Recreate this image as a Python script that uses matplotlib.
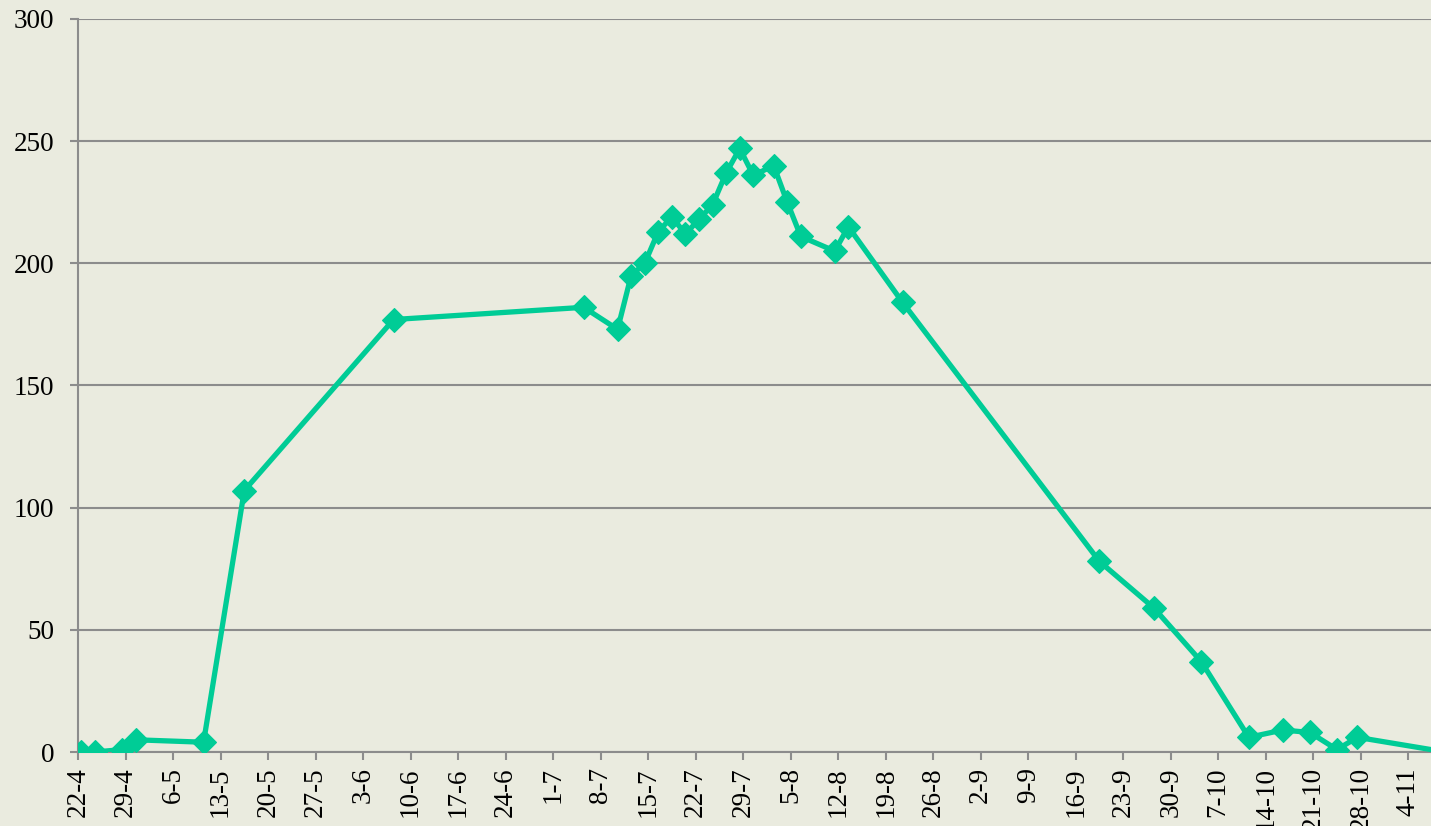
import matplotlib
matplotlib.use("Agg")
import matplotlib.pyplot as plt
import pandas as pd

# ---- data ----
dates = ["22-4", "24-4", "28-4", "30-4", "10-5", "16-5", "7-6", "5-7", "10-7",
         "12-7", "14-7", "16-7", "18-7", "20-7", "22-7", "24-7", "26-7", "28-7",
         "30-7", "2-8", "4-8", "6-8", "11-8", "13-8", "21-8", "19-9", "27-9",
         "4-10", "11-10", "16-10", "20-10", "24-10", "27-10", "9-11"]
values = [0, 0, 1, 5, 4, 107, 177, 182, 173,
          195, 200, 213, 219, 212, 218, 224, 237, 247,
          236, 240, 225, 211, 205, 215, 184, 78, 59,
          37, 6, 9, 8, 1, 6, 0]
tick_start = "22-4"
tick_end = "4-11"
y_ticks = [0, 50, 100, 150, 200, 250, 300]

YEAR = 2020
def to_dt(s):
    return pd.to_datetime(f"{s}-{YEAR}", format="%d-%m-%Y")

x = [to_dt(d) for d in dates]
# Excel-style: points centred within their day ("between tick marks")
x_plot = [d + pd.Timedelta(hours=12) for d in x]
ticks = pd.date_range(to_dt(tick_start), to_dt(tick_end), freq="7D")

BG = "#EAEBDF"
GRID = "#8C8C8C"
LINE = "#00CC96"

plt.rcParams['font.family'] = ['Liberation Serif', 'DejaVu Serif']

fig = plt.figure(figsize=(14.31, 8.26), dpi=100, facecolor=BG)
ax = fig.add_axes([78/1431, 74/826, 1 - 78/1431, (752 - 19)/826])
ax.set_facecolor(BG)

ax.plot(x_plot, values, color=LINE, lw=3.8, marker="D", markersize=12,
        markeredgewidth=0.8, markeredgecolor=LINE, markerfacecolor=LINE,
        solid_joinstyle="miter", zorder=3)

ax.set_ylim(0, 300)
ax.set_yticks(y_ticks)
ax.set_xlim(to_dt(tick_start), to_dt(tick_start) + pd.Timedelta(days=199.35))
ax.set_xticks(ticks)
ax.set_xticklabels([f"{t.day}-{t.month}" for t in ticks], rotation=90)

ax.grid(axis="y", color=GRID, lw=1.5, zorder=1)
ax.set_axisbelow(True)
for s in ["top", "right"]:
    ax.spines[s].set_visible(False)
for s in ["left", "bottom"]:
    ax.spines[s].set_color(GRID)
    ax.spines[s].set_linewidth(1.5)
    ax.spines[s].set_zorder(2)

ax.tick_params(axis="x", direction="out", length=6, width=1.5, color=GRID,
               labelsize=19.5, pad=5)
ax.tick_params(axis="y", direction="out", length=6, width=1.5, color=GRID,
               labelsize=19.5, pad=11)

fig.savefig("out.png", dpi=100, facecolor=BG)
